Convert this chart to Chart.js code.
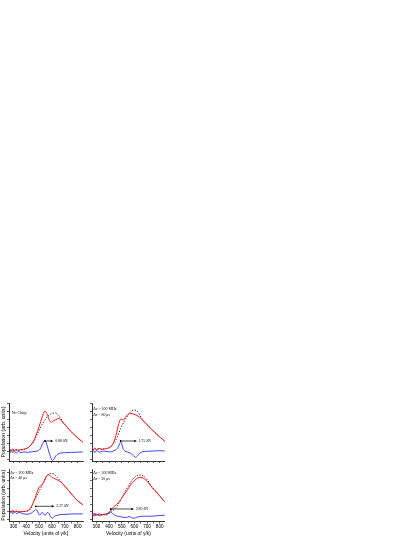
<!DOCTYPE html>
<html><head><meta charset="utf-8">
<script src="https://cdn.jsdelivr.net/npm/chart.js@4.4.1/dist/chart.umd.min.js"></script>
<style>
html,body{margin:0;padding:0;background:#fff;width:415px;height:537px;overflow:hidden;position:relative;}
canvas{position:absolute;display:block;}
</style></head><body>
<canvas id="tl" width="84" height="62" style="left:0;top:401px"></canvas>
<canvas id="tr" width="75" height="62" style="left:90px;top:401px"></canvas>
<canvas id="bl" width="84" height="70" style="left:0;top:467px"></canvas>
<canvas id="br" width="75" height="70" style="left:90px;top:467px"></canvas>
<script>
// ---------- axes ----------
const xTickValues = [300,350,400,450,500,550,600,650,700,750,800];
const xTickLabels = [300,400,500,600,700,800];
const yTickValues = [0,1,2,3,4,5,6,7];
const xTitle = 'Velocity (units of γ/k)';
const yTitle = 'Population (arb. units)';

// ---------- top-left: No Chirp ----------
const tlRedV = [273,283,294,306,319,337,358,378,396,417,435,460,486,512,529,545,563,581,596,614,640,658,678,704,742,781,819,840];
const tlRedY = [1.26,1.05,1.34,1.09,1.26,1.13,1.22,1.26,1.34,1.51,1.8,2.43,3.47,4.72,5.55,6.05,5.63,4.84,4.63,4.84,5.05,5.09,4.72,4.3,3.59,2.97,2.43,2.18];
const tlFitV = [273,320,370,410,440,460,480,499,524,550,575,601,627,645,665,690,704,742,781,819,840];
const tlFitY = [1.15,1.15,1.2,1.45,1.85,2.3,3.0,3.6,4.4,5.05,5.5,5.75,5.8,5.6,5.2,4.6,4.3,3.59,2.97,2.43,2.18];
const tlDiffV = [273,283,294,306,319,337,358,383,409,447,486,506,521,534,545,555,568,581,594,604,614,629,647,670,704,755,840];
const tlDiffY = [0.76,1.18,0.84,1.05,0.76,1.01,0.84,0.93,0.88,0.97,1.05,1.26,1.76,2.22,2.34,2.09,1.38,0.68,0.09,-0.16,0.01,0.43,0.68,0.8,0.84,0.88,0.93];
const tlNotes = ['No Chirp'];
const tlNoteV = 286, tlNoteY = [5.8];
const tlArrowV = [545, 610], tlArrowY = 2.3, tlValue = '0.88 δN', tlValueV = 625;

// ---------- top-right: 100 MHz ----------
const trRedV = [265,274,287,303,321,342,374,400,418,439,458,474,487,497,510,526,545,566,584,605,637,663,689,729,768,808,834,840];
const trRedY = [1.47,1.18,1.43,1.22,1.38,1.26,1.34,1.47,1.68,2.22,3.26,4.3,4.93,5.05,4.93,5.22,5.55,5.76,5.72,5.59,5.34,4.93,4.51,3.88,3.26,2.72,2.34,2.26];
const trFitV = [265,320,380,413,426,445,466,492,518,545,571,597,616,637,663,689,729,768,808,834,840];
const trFitY = [1.3,1.3,1.35,1.55,1.8,2.2,2.84,3.88,4.72,5.43,5.97,6.18,6.09,5.68,5.01,4.51,3.88,3.26,2.72,2.34,2.26];
const trDiffV = [265,274,287,303,321,347,374,413,439,458,474,484,492,500,510,524,545,571,592,608,624,642,668,702,755,794,840];
const trDiffY = [0.97,1.26,0.84,1.13,0.88,1.05,1.01,0.93,1.09,1.26,1.59,2.01,2.18,1.93,1.38,1.05,0.93,0.76,0.47,0.26,0.43,0.76,0.97,1.01,1.05,1.09,1.05];
const trNotes = ['Δν = 100 MHz', 'Δτ = 80 μs'];
const trNoteV = 275, trNoteY = [6.3, 5.55];
const trArrowV = [492, 620], trArrowY = 2.3, trValue = '1.75 δN', trValueV = 632;

// ---------- bottom-left: 200 MHz ----------
const blRedV = [273,283,294,306,324,345,370,396,422,447,468,486,499,512,524,537,555,570,583,596,614,640,665,691,717,755,794,840];
const blRedY = [1.18,0.97,1.22,1.01,1.13,1.01,1.05,1.09,1.3,1.93,2.76,3.59,4.13,4.3,4.47,4.84,5.47,5.72,5.63,5.43,5.26,5.05,4.84,4.43,3.93,3.22,2.51,1.93];
const blFitV = [273,350,400,430,460,486,512,537,563,588,614,640,665,691,717,755,794,840];
const blFitY = [1.05,1.05,1.1,1.35,2.34,3.18,4.01,4.84,5.55,5.88,5.8,5.38,4.93,4.43,3.93,3.22,2.51,1.93];
const blDiffV = [273,283,294,306,324,345,370,409,440,460,473,486,501,514,524,537,550,565,578,591,604,617,640,678,717,781,840];
const blDiffY = [0.88,1.13,0.76,1.01,0.8,0.97,0.8,0.72,0.88,1.13,1.3,1.13,0.63,0.76,0.97,0.68,0.63,0.93,0.76,0.38,0.22,0.43,0.59,0.68,0.72,0.76,0.76];
const blNotes = ['Δν = 200 MHz', 'Δτ = 40 μs'];
const blNoteV = 274, blNoteY = [5.97, 5.26];
const blArrowV = [473, 619], blArrowY = 1.72, blValue = '2.27 δN', blValueV = 633;

// ---------- bottom-right: 300 MHz ----------
const brRedV = [265,274,287,303,321,342,360,379,400,418,439,458,474,492,518,545,571,597,624,650,671,702,742,781,808,834,840];
const brRedY = [0.8,0.51,0.84,0.55,0.76,0.59,0.72,0.76,0.97,1.3,1.68,1.93,2.18,2.55,3.18,3.8,4.43,4.93,5.26,5.38,5.26,4.84,4.05,3.38,2.88,2.38,2.3];
const brFitV = [265,320,370,400,418,445,471,497,523,550,576,602,629,650,671,702,742,781,808,834,840];
const brFitY = [0.7,0.7,0.72,0.85,1.09,1.38,1.93,2.63,3.47,4.22,4.88,5.38,5.63,5.68,5.55,5.05,4.1,3.4,2.9,2.4,2.3];
const brDiffV = [265,274,287,303,321,347,374,395,413,431,452,479,510,537,558,576,597,618,642,689,742,794,840];
const brDiffY = [0.59,0.84,0.47,0.72,0.51,0.68,0.63,0.8,0.97,0.76,0.55,0.43,0.34,0.3,0.43,0.3,0.22,0.34,0.43,0.47,0.47,0.55,0.59];
const brNotes = ['Δν = 300 MHz', 'Δτ = 50 μs'];
const brNoteV = 274, brNoteY = [5.88, 5.13];
const brArrowV = [413, 597], brArrowY = 1.38, brValue = '2.80 δN', brValueV = 610;

// ---------- drawing ----------
Chart.defaults.font.family = '"Liberation Sans", Arial, sans-serif';
Chart.defaults.color = '#000';
const XMIN = 265, XMAX = 842;

function pts(vs, ys){ return vs.map((v,i)=>({x:v, y:ys[i]})); }

function notesPlugin(p){
  return {
    id:'notes',
    afterDatasetsDraw(chart){
      const ctx = chart.ctx, xs = chart.scales.x, ys = chart.scales.y;
      ctx.save();
      ctx.fillStyle = '#000'; ctx.strokeStyle = '#000';
      ctx.font = '3.9px "Liberation Serif", "Times New Roman", serif';
      ctx.textBaseline = 'middle'; ctx.textAlign = 'left';
      p.notes.forEach((t,i)=>ctx.fillText(t, xs.getPixelForValue(p.noteV), ys.getPixelForValue(p.noteY[i])));
      const x0 = xs.getPixelForValue(p.arrowV[0]), x1 = xs.getPixelForValue(p.arrowV[1]), y = ys.getPixelForValue(p.arrowY);
      ctx.lineWidth = 0.7;
      ctx.beginPath(); ctx.moveTo(x0, y); ctx.lineTo(x1-2, y); ctx.stroke();
      ctx.beginPath(); ctx.moveTo(x1, y); ctx.lineTo(x1-2.6, y-1.2); ctx.lineTo(x1-2.6, y+1.2); ctx.closePath(); ctx.fill();
      ctx.beginPath(); ctx.arc(x0, y, 0.9, 0, 2*Math.PI); ctx.fill();
      ctx.fillText(p.value, xs.getPixelForValue(p.valueV), y);
      ctx.restore();
    }
  };
}

function makeChart(id, s, notes, o){
  new Chart(document.getElementById(id), {
    type:'line',
    data:{datasets:[
      {data:pts(s.redV, s.redY), borderColor:'#ff1a1a', borderWidth:1},
      {data:pts(s.fitV, s.fitY), borderColor:'#000', borderWidth:0.9, borderDash:[1.2,1.6]},
      {data:pts(s.diffV, s.diffY), borderColor:'#3030ff', borderWidth:0.9}
    ]},
    options:{
      responsive:false, animation:false, devicePixelRatio:1,
      layout:{autoPadding:false, padding:{top:2, right:o.padR, left:0, bottom:0}},
      plugins:{legend:{display:false}, tooltip:{enabled:false}},
      elements:{point:{radius:0}, line:{cubicInterpolationMode:'monotone'}},
      scales:{
        x:{type:'linear', min:XMIN, max:XMAX,
           afterBuildTicks:sc=>{sc.ticks = xTickValues.map(v=>({value:v}));},
           ticks:{display:o.xLabels, autoSkip:false, maxRotation:0, padding:0.5, font:{size:4.6}, color:'#000',
                  callback:v=>xTickLabels.includes(v)?String(v):''},
           grid:{display:true, drawOnChartArea:false, drawTicks:true, tickLength:2, color:'#000', lineWidth:0.6},
           border:{display:true, color:'#000', width:0.8},
           title:{display:o.xLabels, text:xTitle, font:{size:4.9}, color:'#000', padding:{top:1.1, bottom:0}}},
        y:{type:'linear', min:-0.2, max:o.ymax,
           afterBuildTicks:sc=>{sc.ticks = yTickValues.filter(v=>v<=o.ymax).map(v=>({value:v}));},
           ticks:{display:false},
           grid:{display:true, drawOnChartArea:false, drawTicks:true, tickLength:2, color:'#000', lineWidth:0.6},
           border:{display:true, color:'#000', width:0.8},
           title:{display:o.yTitle, text:yTitle, font:{size:5.2}, color:'#000', padding:{top:0.8, bottom:0}}}
      }
    },
    plugins:[notesPlugin(notes)]
  });
}

makeChart('tl', {redV:tlRedV, redY:tlRedY, fitV:tlFitV, fitY:tlFitY, diffV:tlDiffV, diffY:tlDiffY},
  {notes:tlNotes, noteV:tlNoteV, noteY:tlNoteY, arrowV:tlArrowV, arrowY:tlArrowY, value:tlValue, valueV:tlValueV},
  {padR:1, xLabels:false, yTitle:true, ymax:7.05});
makeChart('tr', {redV:trRedV, redY:trRedY, fitV:trFitV, fitY:trFitY, diffV:trDiffV, diffY:trDiffY},
  {notes:trNotes, noteV:trNoteV, noteY:trNoteY, arrowV:trArrowV, arrowY:trArrowY, value:trValue, valueV:trValueV},
  {padR:0, xLabels:false, yTitle:false, ymax:7.05});
makeChart('bl', {redV:blRedV, redY:blRedY, fitV:blFitV, fitY:blFitY, diffV:blDiffV, diffY:blDiffY},
  {notes:blNotes, noteV:blNoteV, noteY:blNoteY, arrowV:blArrowV, arrowY:blArrowY, value:blValue, valueV:blValueV},
  {padR:1, xLabels:true, yTitle:true, ymax:6.425});
makeChart('br', {redV:brRedV, redY:brRedY, fitV:brFitV, fitY:brFitY, diffV:brDiffV, diffY:brDiffY},
  {notes:brNotes, noteV:brNoteV, noteY:brNoteY, arrowV:brArrowV, arrowY:brArrowY, value:brValue, valueV:brValueV},
  {padR:0, xLabels:true, yTitle:false, ymax:6.425});
</script>
</body></html>
